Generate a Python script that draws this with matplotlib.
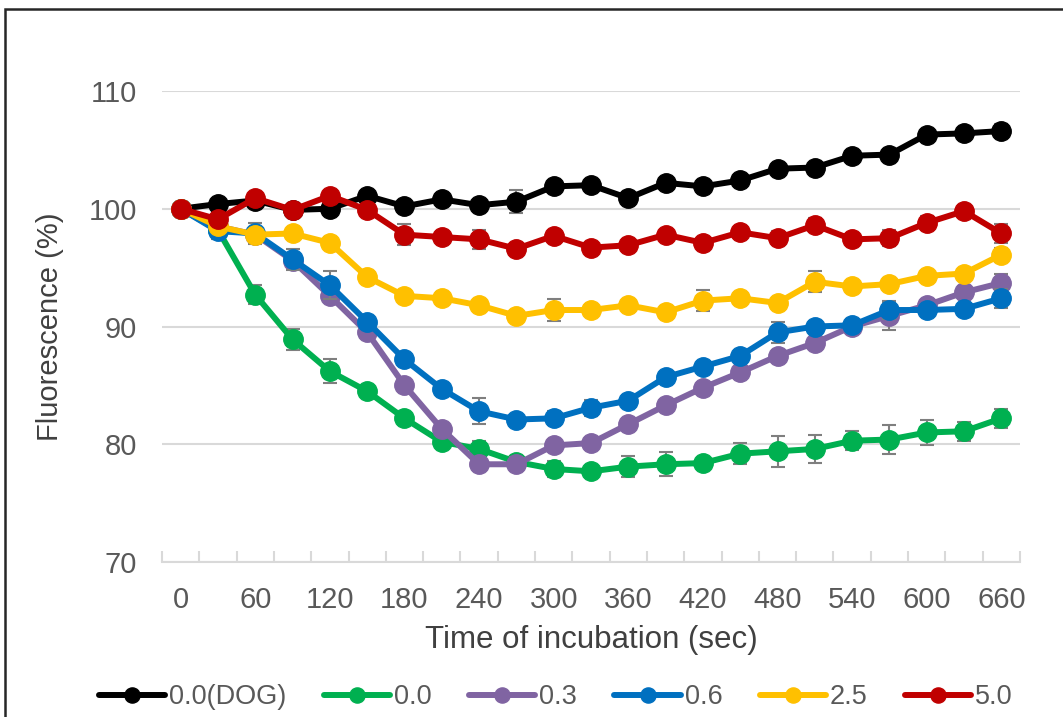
import matplotlib
matplotlib.use("Agg")
import matplotlib.pyplot as plt
from matplotlib.patches import Rectangle

times = [0, 30, 60, 90, 120, 150, 180, 210, 240, 270, 300, 330, 360, 390, 420, 450, 480, 510, 540, 570, 600, 630, 660]
tick_labels = [str(t) for t in range(0, 661, 60)]

labels = ["0.0(DOG)", "0.0", "0.3", "0.6", "2.5", "5.0"]
colors = ["#000000", "#00B050", "#8064A2", "#0070C0", "#FFC000", "#C00000"]

dog = [100, 100.4, 100.7, 99.9, 100.0, 101.1, 100.2, 100.8, 100.3, 100.6, 101.9, 102.0, 100.9, 102.2, 101.9, 102.4,
       103.4, 103.5, 104.5, 104.6, 106.3, 106.4, 106.6]
c00 = [100, 98.2, 92.7, 88.9, 86.2, 84.5, 82.2, 80.2, 79.6, 78.5, 77.9, 77.7, 78.1, 78.3, 78.4, 79.2,
       79.4, 79.6, 80.3, 80.4, 81.0, 81.1, 82.2]
c03 = [100, 98.5, 97.8, 95.6, 92.6, 89.5, 85.0, 81.3, 78.3, 78.3, 79.9, 80.1, 81.7, 83.3, 84.8, 86.1,
       87.5, 88.6, 90.0, 90.9, 91.8, 92.9, 93.7]
c06 = [100, 98.1, 97.9, 95.7, 93.5, 90.4, 87.2, 84.7, 82.8, 82.1, 82.2, 83.1, 83.7, 85.7, 86.6, 87.5,
       89.5, 90.0, 90.1, 91.4, 91.4, 91.5, 92.4]
c25 = [100, 98.5, 97.8, 97.9, 97.1, 94.2, 92.6, 92.4, 91.8, 90.9, 91.4, 91.4, 91.8, 91.2, 92.2, 92.4,
       92.0, 93.8, 93.4, 93.6, 94.3, 94.5, 96.1]
c50 = [100, 99.1, 100.9, 99.9, 101.1, 99.9, 97.8, 97.6, 97.4, 96.6, 97.7, 96.7, 96.9, 97.8, 97.1, 98.0,
       97.5, 98.6, 97.4, 97.5, 98.8, 99.8, 97.9]

err_dog = [0.2, 0.3, 0.3, 0.3, 0.3, 0.3, 0.3, 0.3, 0.4, 1.0, 0.3, 0.3, 0.5, 0.3, 0.5, 0.3,
           0.3, 0.3, 0.3, 0.5, 0.3, 0.3, 0.6]
err_c00 = [0.2, 0.5, 0.8, 0.9, 1.0, 0.4, 0.4, 0.5, 0.7, 0.5, 0.7, 0.4, 0.9, 1.0, 0.4, 0.9,
           1.3, 1.2, 0.8, 1.2, 1.1, 0.8, 0.8]
err_c03 = [0.2, 0.4, 0.4, 0.5, 0.4, 0.4, 0.4, 0.4, 0.4, 0.6, 0.4, 0.4, 0.4, 0.4, 0.4, 0.4,
           0.5, 0.4, 0.6, 1.2, 0.5, 0.5, 0.8]
err_c06 = [0.2, 0.7, 0.9, 0.9, 1.2, 0.5, 0.4, 0.4, 1.1, 0.4, 0.6, 0.7, 0.5, 0.4, 0.4, 0.4,
           0.9, 0.5, 0.5, 0.8, 0.5, 0.4, 0.8]
err_c25 = [0.2, 0.4, 0.4, 0.4, 0.5, 0.4, 0.4, 0.5, 0.4, 0.4, 0.9, 0.4, 0.4, 0.5, 0.9, 0.4,
           0.4, 0.9, 0.4, 0.5, 0.4, 0.4, 0.6]
err_c50 = [0.2, 0.4, 0.4, 0.4, 0.4, 0.4, 0.9, 0.4, 0.8, 0.5, 0.4, 0.4, 0.5, 0.4, 0.4, 0.4,
           0.6, 0.6, 0.4, 0.7, 0.6, 0.5, 0.8]

series = [dog, c00, c03, c06, c25, c50]
errors = [err_dog, err_c00, err_c03, err_c06, err_c25, err_c50]

plt.rcParams['font.family'] = ['Liberation Sans', 'DejaVu Sans']
txt = "#595959"
grid = "#D9D9D9"

fig = plt.figure(figsize=(10.63, 7.17), dpi=100)
fig.patch.set_facecolor("white")
W, H = 1063, 717
ax = fig.add_axes([162 / W, 1 - 562 / H, (1020 - 162) / W, (562 - 91) / H])

for i, (ys, es, c, lab) in enumerate(zip(series, errors, colors, labels)):
    z = 3 + i
    ax.errorbar(times, ys, yerr=es, fmt="none", ecolor="#7F7F7F", elinewidth=1.5,
                capsize=5, capthick=1.5, zorder=z)
    ax.plot(times, ys, color=c, lw=4.3, marker="o", markersize=14, label=lab, zorder=z + 0.5,
            solid_capstyle="round")

ax.set_xlim(-15, 675)
ax.set_ylim(70, 110)
ax.set_yticks([70, 80, 90, 100, 110])
ax.yaxis.grid(True, color=grid, lw=1.5)
ax.set_axisbelow(True)
ax.tick_params(axis="y", length=0, labelsize=21, colors=txt, pad=18)

ax.set_xticks(list(range(0, 661, 60)))
ax.set_xticklabels(tick_labels)
ax.set_xticks([t - 15 for t in times] + [675], minor=True)
ax.tick_params(axis="x", which="major", length=0, labelsize=21, colors=txt, pad=17)
ax.tick_params(axis="x", which="minor", direction="in", length=8, width=1.5, color=grid)

for s in ["top", "right", "left"]:
    ax.spines[s].set_visible(False)
ax.spines["bottom"].set_color(grid)
ax.spines["bottom"].set_linewidth(1.5)

ax.set_xlabel("Time of incubation (sec)", fontsize=22.5, color="#404040", labelpad=8)
ax.set_ylabel("Fluorescence (%)", fontsize=21, color="#404040", labelpad=18)

leg = fig.legend(loc="center", bbox_to_anchor=(556 / W, 1 - 697 / H), ncol=6, frameon=False,
                 fontsize=19.5, handlelength=2.45, columnspacing=1.37, handletextpad=0.15,
                 labelcolor=txt, markerscale=0.78)

fig.patches.append(Rectangle((5 / W, -0.2), 1.3, 1.2 - 9 / H, transform=fig.transFigure,
                             fill=False, edgecolor="#262626", lw=1.8, zorder=10))

fig.savefig("out.png", dpi=100, facecolor="white")
